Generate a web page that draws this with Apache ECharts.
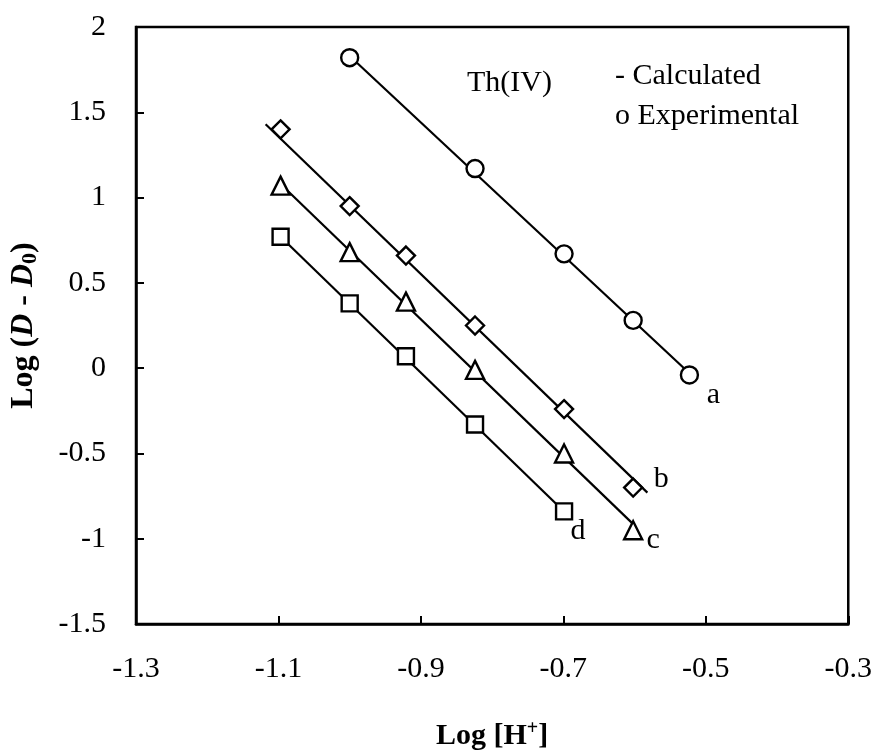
<!DOCTYPE html>
<html>
<head>
<meta charset="utf-8">
<script src="https://cdn.jsdelivr.net/npm/echarts@6/dist/echarts.min.js"></script>
<style>
  html, body { margin: 0; padding: 0; background: #fff; }
  #container { width: 875px; height: 756px; }
</style>
</head>
<body>
<div id="container"></div>
<script>
// log [H+] values of the experiments
var xA = [-1.0, -0.824, -0.699, -0.602, -0.523];
var yA = [1.82, 1.17, 0.67, 0.28, -0.04];
var xB = [-1.097, -1.0, -0.921, -0.824, -0.699, -0.602];
var yB = [1.40, 0.95, 0.66, 0.25, -0.24, -0.70];
var xC = [-1.097, -1.0, -0.921, -0.824, -0.699, -0.602];
var yC = [1.07, 0.68, 0.39, -0.01, -0.50, -0.95];
var xD = [-1.097, -1.0, -0.921, -0.824, -0.699];
var yD = [0.77, 0.38, 0.07, -0.33, -0.84];

// calculated lines (end points)
var calcAx = [-1.0, -0.523], calcAy = [1.83, -0.03];
var calcBx = [-1.118, -0.582], calcBy = [1.43, -0.73];
var calcCx = [-1.097, -0.603], calcCy = [1.08, -0.91];
var calcDx = [-1.097, -0.699], calcDy = [0.77, -0.84];

var xTicks = [-1.3, -1.1, -0.9, -0.7, -0.5, -0.3];

var dom = document.getElementById("container");
var myChart = echarts.init(dom);
var font = "Liberation Serif";

function pairs(xs, ys) {
  return xs.map(function(x, i) { return [x, ys[i]]; });
}

function calcLine(xs, ys) {
  return {
    type: "line",
    data: pairs(xs, ys),
    symbol: "none",
    lineStyle: { color: "#000", width: 2.2 },
    z: 2,
    silent: true
  };
}

function expSeries(xs, ys, symbol, size, tag, offset) {
  var d = pairs(xs, ys).map(function(p, i) {
    var item = { value: p };
    if (i === xs.length - 1) {
      item.label = {
        show: true,
        formatter: tag,
        position: "inside",
        offset: offset,
        color: "#000",
        fontFamily: font,
        fontSize: 30
      };
    }
    return item;
  });
  return {
    type: "scatter",
    data: d,
    symbol: symbol,
    symbolSize: size,
    itemStyle: { color: "#fff", borderColor: "#000", borderWidth: 2.4, opacity: 1 },
    z: 3
  };
}

var axisText = { color: "#000", fontFamily: font, fontSize: 30 };

var option = {
  animation: false,
  backgroundColor: "#fff",
  grid: {
    left: 133, right: 26, top: 27, bottom: 126,
    show: true, borderColor: "#000", borderWidth: 2.5
  },
  xAxis: {
    type: "value",
    min: -1.3, max: -0.3,
    name: "Log [H{sup|+}]",
    nameLocation: "middle",
    nameGap: 95,
    nameTextStyle: {
      color: "#000", fontFamily: font, fontSize: 30, fontWeight: "bold",
      rich: {
        sup: { fontFamily: font, fontSize: 20, fontWeight: "bold", color: "#000", verticalAlign: "top", padding: [0, 0, 14, 0] }
      }
    },
    axisLine: { onZero: false, lineStyle: { color: "#000", width: 2.5 } },
    axisTick: { inside: true, length: 8, customValues: xTicks, lineStyle: { color: "#000", width: 2 } },
    axisLabel: Object.assign({ margin: 30, customValues: xTicks,
      formatter: function(v) { return v.toFixed(1); } }, axisText),
    splitLine: { show: false }
  },
  yAxis: {
    type: "value",
    min: -1.5, max: 2, interval: 0.5,
    name: "Log ({it|D} - {it|D}{sub|0})",
    nameLocation: "middle",
    nameGap: 95,
    nameTextStyle: {
      color: "#000", fontFamily: font, fontSize: 32, fontWeight: "bold",
      rich: {
        it: { fontFamily: font, fontSize: 32, fontWeight: "bold", fontStyle: "italic", color: "#000" },
        sub: { fontFamily: font, fontSize: 22, fontWeight: "bold", color: "#000", verticalAlign: "bottom", padding: [12, 0, 0, 0] }
      }
    },
    axisLine: { onZero: false, lineStyle: { color: "#000", width: 2.5 } },
    axisTick: { inside: true, length: 8, lineStyle: { color: "#000", width: 2 } },
    axisLabel: Object.assign({ margin: 30 }, axisText),
    splitLine: { show: false }
  },
  graphic: [
    { type: "text", left: 467, top: 68, style: { text: "Th(IV)", fill: "#000", font: "30px " + font } },
    { type: "text", left: 615, top: 61, style: { text: "- Calculated", fill: "#000", font: "30px " + font } },
    { type: "text", left: 615, top: 101, style: { text: "o Experimental", fill: "#000", font: "30px " + font } }
  ],
  series: [
    calcLine(calcAx, calcAy),
    calcLine(calcBx, calcBy),
    calcLine(calcCx, calcCy),
    calcLine(calcDx, calcDy),
    expSeries(xA, yA, "circle", 17, "a", [24, 20]),
    expSeries(xB, yB, "diamond", 18, "b", [28, -8]),
    expSeries(xC, yC, "triangle", 18, "c", [20, 10]),
    expSeries(xD, yD, "rect", 16, "d", [14, 20])
  ]
};

if (option && typeof option === "object") {
  myChart.setOption(option, true);
}
</script>
</body>
</html>
